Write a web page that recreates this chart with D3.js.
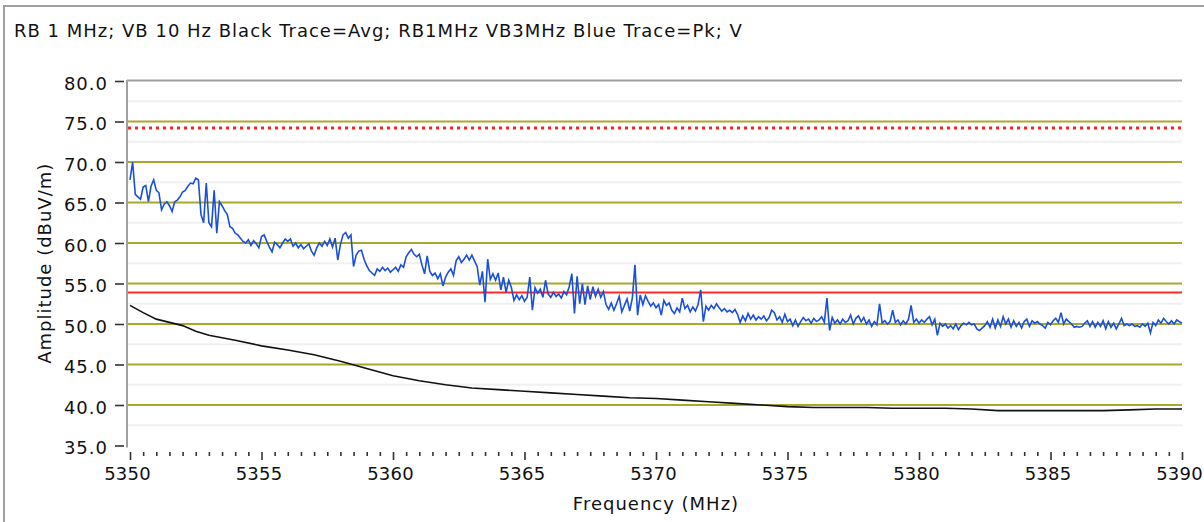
<!DOCTYPE html>
<html><head><meta charset="utf-8">
<script src="https://cdn.jsdelivr.net/npm/d3@7"></script>
<style>
html,body{margin:0;padding:0;background:#fff;}
svg{display:block;font-family:"DejaVu Sans",sans-serif;}
</style></head>
<body>
<svg id="chart" width="1204" height="522"></svg>
<script>
const titleText = "RB 1 MHz; VB 10 Hz Black Trace=Avg; RB1MHz VB3MHz Blue Trace=Pk; V";
const xLabel = "Frequency (MHz)";
const yLabel = "Amplitude (dBuV/m)";
const xMajorTicks = [5350,5355,5360,5365,5370,5375,5380,5385,5390];
const yTicks = [35,40,45,50,55,60,65,70,75,80];
const limitPeak = 74.2;   // red dotted
const limitAvg = 53.9;    // red solid

// Blue trace (peak), 0.1 MHz spacing from 5350.0 to 5390.0
const blueStart = 5350, blueStep = 0.1;
const blueAmp = [
67.8,70.0,66.0,65.7,65.4,66.9,67.1,65.1,67.0,67.8,
66.5,66.2,64.1,64.8,65.1,64.6,63.9,65.1,65.3,65.7,
66.3,66.5,67.0,67.4,67.3,68.0,67.8,63.5,62.5,67.4,
62.5,62.0,66.5,61.2,65.1,64.6,64.0,63.5,62.0,61.8,
61.2,61.0,60.6,60.2,60.0,60.4,59.7,60.3,59.9,59.4,
60.8,61.0,60.2,59.5,58.9,60.1,59.8,59.4,60.0,60.5,
60.2,60.5,59.6,60.0,59.4,59.8,59.3,59.6,59.9,59.0,
58.5,59.4,60.0,59.6,60.2,59.7,60.5,59.5,60.6,57.9,
59.8,61.0,61.3,60.6,61.0,57.1,58.5,59.0,59.1,58.0,
57.2,56.6,56.3,56.0,56.8,56.5,57.0,56.6,56.9,56.4,
56.7,57.0,56.5,57.3,57.0,58.3,58.8,59.2,58.6,58.3,
58.6,57.3,56.2,58.4,56.5,56.0,56.3,55.6,56.2,54.7,
55.8,56.4,56.8,56.0,57.8,58.3,57.6,58.0,58.5,57.9,
58.5,57.8,57.1,54.8,56.5,52.7,58.0,55.5,56.2,55.4,
56.3,54.2,55.8,53.9,55.4,54.5,52.9,53.6,53.0,53.5,
52.8,53.3,55.8,51.7,54.5,53.8,54.3,53.3,55.4,53.7,
53.3,53.9,53.4,53.7,53.2,54.0,53.6,54.6,56.2,51.3,
55.9,52.5,55.0,52.4,54.7,53.0,54.6,53.4,54.3,53.3,
54.0,52.4,51.8,52.6,51.7,52.5,53.4,51.5,52.3,53.1,
51.6,53.2,57.3,51.1,53.6,52.4,53.5,52.8,52.2,52.6,
52.0,52.4,51.1,52.9,52.3,52.6,51.7,51.3,52.0,51.5,
53.2,51.9,52.3,51.5,52.1,51.6,52.4,54.2,50.3,52.2,
51.7,52.3,51.9,52.5,52.0,51.6,51.9,51.5,51.7,51.4,
51.8,51.2,50.2,51.0,50.4,51.3,50.6,51.1,50.5,50.9,
50.6,51.0,50.4,50.8,51.7,51.4,50.5,50.9,50.2,51.2,
50.3,50.6,49.8,50.5,49.7,50.3,50.8,50.4,50.6,50.1,
50.7,50.3,50.5,50.9,50.2,53.2,49.2,50.8,50.1,50.5,
50.0,50.6,50.2,50.4,51.1,50.0,50.7,51.0,50.3,50.8,
50.0,50.5,49.7,50.3,49.9,52.5,50.1,50.4,50.0,50.3,
51.7,50.2,50.5,49.9,50.4,50.0,50.6,52.3,50.2,50.6,
50.1,50.5,50.2,50.6,50.9,49.9,50.6,48.6,50.1,49.7,
50.0,49.5,49.8,49.4,50.0,49.3,49.8,50.1,49.9,50.2,
49.9,50.0,49.4,49.2,49.5,49.8,50.3,49.6,50.6,49.5,
50.5,49.7,50.9,50.0,50.6,49.6,50.4,49.7,50.2,49.5,
50.3,50.6,49.7,50.4,50.1,50.3,50.0,49.8,49.5,50.2,
49.9,50.4,50.7,50.2,51.4,50.0,50.6,50.3,50.0,49.6,
49.7,49.6,49.7,50.1,50.4,49.7,50.3,49.6,50.2,49.7,
50.4,49.4,50.3,49.6,50.1,49.4,50.0,50.7,49.8,50.0,
49.8,50.0,49.7,49.8,49.6,50.0,49.7,50.1,48.9,50.2,
49.8,50.5,50.1,50.7,50.3,50.0,50.4,50.0,50.5,50.3,
50.1];

// Black trace (average)
const blackFreq = [5350,5350.5,5351,5351.5,5352,5352.5,5353,5354,5355,5356,5357,5358,5359,5360,5361,5362,5363,5364,5365,5366,5367,5368,5369,5370,5371,5372,5373,5374,5375,5376,5377,5378,5379,5380,5381,5382,5383,5384,5385,5386,5387,5388,5389,5390];
const blackAmp = [52.3,51.4,50.6,50.2,49.8,49.1,48.6,48.0,47.3,46.8,46.2,45.4,44.5,43.6,43.0,42.5,42.1,41.9,41.7,41.5,41.3,41.1,40.9,40.8,40.6,40.4,40.2,40.0,39.8,39.7,39.7,39.7,39.6,39.6,39.6,39.5,39.3,39.3,39.3,39.3,39.3,39.4,39.5,39.5];

const svg = d3.select("#chart");
const W = 1204, H = 522;
const plotL = 127, plotR = 1182, plotT = 81, plotB = 445.5;
const x = d3.scaleLinear().domain([5350,5390]).range([130,1182]);
const y = d3.scaleLinear().domain([35,80]).range([plotB,plotT]);

// outer border
svg.append("rect").attr("x",4).attr("y",6).attr("width",W+10).attr("height",H+10)
  .attr("fill","#fff").attr("stroke","#a0a0a0").attr("stroke-width",2);

// title
svg.append("text").attr("x",14).attr("y",36.5).attr("font-size",18)
  .attr("letter-spacing",1).attr("fill","#111").text(titleText);

const g = svg.append("g");

// minor grid lines (half steps)
const minorY = d3.range(37.5,80,5);
g.selectAll(".mg").data(minorY).enter().append("line")
  .attr("x1",plotL+1).attr("x2",plotR).attr("y1",d=>y(d)).attr("y2",d=>y(d))
  .attr("stroke","#f0f0f0").attr("stroke-width",2);
// major grid lines
g.selectAll(".gg").data(yTicks.filter(v=>v>35&&v<80)).enter().append("line")
  .attr("x1",plotL+1).attr("x2",plotR).attr("y1",d=>y(d)).attr("y2",d=>y(d))
  .attr("stroke","#a8a82c").attr("stroke-width",2);

// frame: top line and left axis line
g.append("line").attr("x1",plotL).attr("x2",plotR).attr("y1",plotT-0.5).attr("y2",plotT-0.5)
  .attr("stroke","#a0a0a0").attr("stroke-width",2);
g.append("line").attr("x1",plotL).attr("x2",plotL).attr("y1",plotT-1).attr("y2",plotB+2)
  .attr("stroke","#a0a0a0").attr("stroke-width",2);

// limit lines
g.append("line").attr("x1",plotL+1).attr("x2",plotR).attr("y1",y(limitPeak)).attr("y2",y(limitPeak))
  .attr("stroke","#ff2020").attr("stroke-width",3).attr("stroke-dasharray","3,4");
g.append("line").attr("x1",plotL+1).attr("x2",plotR).attr("y1",y(limitAvg)).attr("y2",y(limitAvg))
  .attr("stroke","#ff2a2a").attr("stroke-width",2);

// traces
const blueData = blueAmp.map((v,i)=>({f:blueStart+i*blueStep, a:v}));
const blackData = blackFreq.map((f,i)=>({f:f, a:blackAmp[i]}));
const line = d3.line().x(d=>x(d.f)).y(d=>y(d.a));
g.append("path").datum(blackData).attr("d",line).attr("fill","none")
  .attr("stroke","#111").attr("stroke-width",1.6);
g.append("path").datum(blueData).attr("d",line).attr("fill","none")
  .attr("stroke","#1a4fdc").attr("stroke-width",1.6).attr("stroke-linejoin","miter");

// y axis
const yAxis = d3.axisLeft(y).tickValues(yTicks).tickFormat(d3.format(".1f")).tickSize(9).tickPadding(7);
const ya = svg.append("g").attr("transform","translate(124,0)").call(yAxis);
ya.select(".domain").remove();
ya.selectAll(".tick line").attr("stroke","#333").attr("stroke-width",1.6);
ya.selectAll(".tick text").attr("font-size",18).attr("letter-spacing",1)
  .attr("font-family","DejaVu Sans").attr("fill","#111").attr("dy","0.45em");

// x axis minor ticks
const xMinor = d3.range(5350,5390.01,0.5).filter(v=>xMajorTicks.indexOf(v)<0);
const xa1 = svg.append("g").attr("transform","translate(0,452)")
  .call(d3.axisBottom(x).tickValues(xMinor).tickSize(4).tickFormat(""));
xa1.select(".domain").remove();
xa1.selectAll(".tick line").attr("stroke","#333").attr("stroke-width",1.6);
// x axis major ticks
const xa2 = svg.append("g").attr("transform","translate(0,452)")
  .call(d3.axisBottom(x).tickValues(xMajorTicks).tickSize(8).tickPadding(7).tickFormat(d3.format("d")));
xa2.select(".domain").remove();
xa2.selectAll(".tick line").attr("stroke","#333").attr("stroke-width",1.6);
xa2.selectAll(".tick text").attr("font-size",18).attr("letter-spacing",0.2)
  .attr("font-family","DejaVu Sans").attr("fill","#111").attr("dx",-3);

// axis titles
svg.append("text").attr("x",(130+1182)/2).attr("y",510).attr("text-anchor","middle")
  .attr("font-size",18).attr("letter-spacing",1).attr("fill","#111").text(xLabel);
svg.append("text").attr("transform",`translate(51,${(plotT+plotB)/2}) rotate(-90)`)
  .attr("text-anchor","middle").attr("font-size",18).attr("letter-spacing",1)
  .attr("fill","#111").text(yLabel);
</script>
</body></html>
